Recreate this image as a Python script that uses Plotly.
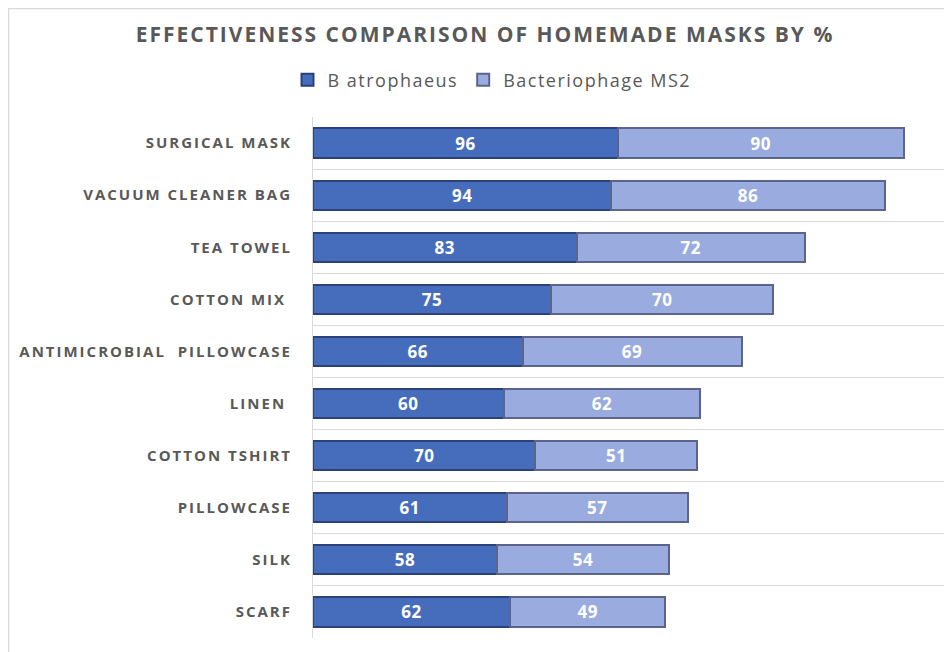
import plotly.graph_objects as go

categories = [
    "SURGICAL MASK",
    "VACUUM CLEANER BAG",
    "TEA TOWEL",
    "COTTON MIX ",
    "ANTIMICROBIAL  PILLOWCASE",
    "LINEN ",
    "COTTON TSHIRT",
    "PILLOWCASE",
    "SILK",
    "SCARF",
]
b_atrophaeus = [96, 94, 83, 75, 66, 60, 70, 61, 58, 62]
bacteriophage_ms2 = [90, 86, 72, 70, 69, 62, 51, 57, 54, 49]
series_names = ["B atrophaeus", "Bacteriophage MS2"]
title_text = "EFFECTIVENESS COMPARISON OF HOMEMADE MASKS BY %"


def spaced(s, px):
    return f'<span style="letter-spacing:{px}px">{s}</span>'


W, H = 952, 652
# page body has an 8px offset; reference coords minus 8
ML, MR, MT, MB = 305, 12, 109, 22
pw = W - ML - MR
ph = H - MT - MB

text_gray = "#595959"
grid_gray = "#d9d9d9"

fig = go.Figure()
fig.add_trace(go.Bar(
    y=categories, x=b_atrophaeus, name=spaced(series_names[0], 1.5), orientation="h",
    marker=dict(color="#466dbb", line=dict(color="#2a4279", width=2)),
    text=b_atrophaeus, textposition="inside", insidetextanchor="middle",
    texttemplate=spaced("%{x}", 0.5),
    textfont=dict(color="white", size=17, family="Open Sans", weight="bold"),
))
fig.add_trace(go.Bar(
    y=categories, x=bacteriophage_ms2, name=spaced(series_names[1], 1.5), orientation="h",
    marker=dict(color="#9aacdf", line=dict(color="#5a648c", width=2)),
    text=bacteriophage_ms2, textposition="inside", insidetextanchor="middle",
    texttemplate=spaced("%{x}", 0.5),
    textfont=dict(color="white", size=17, family="Open Sans", weight="bold"),
))

fig.update_layout(
    width=W, height=H,
    margin=dict(l=ML, r=MR, t=MT, b=MB, autoexpand=False),
    barmode="stack",
    bargap=0.44,
    plot_bgcolor="white", paper_bgcolor="white",
    font=dict(family="Open Sans", color=text_gray),
    title=dict(
        text=spaced(title_text, 2.0),
        x=(485 - 8) / W, xanchor="center", xref="container",
        y=1 - 27 / H, yanchor="middle", yref="container",
        font=dict(size=21, color=text_gray, family="Open Sans", weight="bold"),
    ),
    legend=dict(
        orientation="h", xanchor="center", x=(484 - ML) / pw,
        yanchor="middle", y=1 + (MT - 72) / ph,
        font=dict(size=18, color=text_gray, family="Open Sans"),
        traceorder="normal", itemwidth=30,
    ),
    showlegend=True,
    xaxis=dict(range=[0, 200], showgrid=False, showticklabels=False,
               zeroline=False, showline=False, fixedrange=True),
    yaxis=dict(autorange="reversed", tickson="boundaries", showgrid=True,
               gridcolor=grid_gray, gridwidth=1, showline=True,
               linecolor=grid_gray, ticks="", ticklabelstandoff=17,
               automargin=False,
               tickmode="array", tickvals=categories,
               ticktext=[spaced(c, 2.0) for c in categories],
               tickfont=dict(size=15, color=text_gray, family="Open Sans",
                             weight="bold")),
    shapes=[dict(
        type="rect", xref="paper", yref="paper",
        x0=(0.5 - ML) / pw, x1=1 + (MR + 20) / pw,
        y0=-(MB + 20) / ph, y1=1 + (MT - 0.5) / ph,
        line=dict(color=grid_gray, width=1.5), fillcolor="rgba(0,0,0,0)",
        layer="below",
    )],
)

fig.write_html("out.html")
